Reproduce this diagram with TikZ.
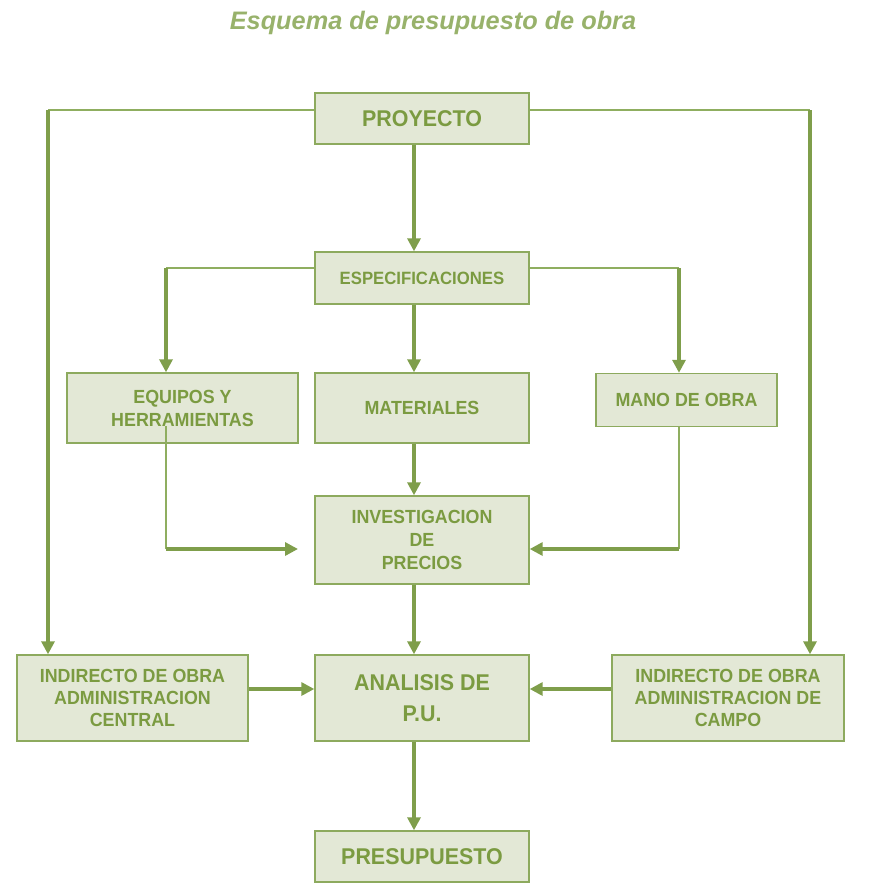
\documentclass[tikz,border=0pt]{standalone}
\usepackage{fontspec}
\setmainfont{Liberation Sans}
\newfontfamily\boxfont[FakeStretch=0.94]{Liberation Sans}
\usetikzlibrary{arrows.meta}
\definecolor{boxfill}{HTML}{E3E8D6}
\definecolor{boxline}{HTML}{8DAA5E}
\definecolor{txt}{HTML}{7B9B41}
\definecolor{arrowc}{HTML}{7F9E4B}
\definecolor{thinc}{HTML}{8FAE60}
\definecolor{titlec}{HTML}{98B26B}
\tikzset{
  stepbox/.style={draw=boxline, fill=boxfill, line width=1.4pt, inner sep=0pt,
    align=center, text=txt, font=\boxfont\bfseries\fontsize{19}{23}\selectfont},
  bigtxt/.style={font=\boxfont\bfseries\fontsize{22.8}{31}\selectfont},
  thinline/.style={draw=thinc, line width=1.5pt},
  thickarrow/.style={draw=arrowc, line width=3.2pt, -{Triangle[length=13pt,width=13pt]}},
}
\begin{document}
\begin{tikzpicture}[x=1pt,y=-1pt]
\useasboundingbox (0,0) rectangle (868,892);
\node[text=titlec, font=\bfseries\itshape\fontsize{25.3}{28}\selectfont] (title) at (433,23) {Esquema de presupuesto de obra};

\node[stepbox, bigtxt, minimum width=214pt, minimum height=51pt] (proy) at (422,118.5) {PROYECTO};
\node[stepbox, font=\boxfont\bfseries\fontsize{17.8}{23}\selectfont, minimum width=214pt, minimum height=52pt] (espec) at (422,278) {ESPECIFICACIONES};
\node[stepbox, minimum width=231pt, minimum height=70pt] (equip) at (182.5,408) {EQUIPOS Y\\HERRAMIENTAS};
\node[stepbox, minimum width=214pt, minimum height=70pt] (mat) at (422,408) {MATERIALES};
\node[stepbox, minimum width=181pt, minimum height=53pt] (mano) at (686.5,400) {MANO DE OBRA};
\node[stepbox, minimum width=214pt, minimum height=88pt] (inv) at (422,540) {INVESTIGACION\\DE\\PRECIOS};
\node[stepbox, bigtxt, minimum width=214pt, minimum height=86pt] (anal) at (422,698) {ANALISIS DE\\P.U.};
\node[stepbox, font=\boxfont\bfseries\fontsize{19}{22}\selectfont, minimum width=231pt, minimum height=86pt] (cent) at (132.5,698) {INDIRECTO DE OBRA\\ADMINISTRACION\\CENTRAL};
\node[stepbox, font=\boxfont\bfseries\fontsize{19}{22}\selectfont, minimum width=232pt, minimum height=86pt] (campo) at (728,698) {INDIRECTO DE OBRA\\ADMINISTRACION DE\\CAMPO};
\node[stepbox, bigtxt, minimum width=214pt, minimum height=51pt] (pres) at (422,856.5) {PRESUPUESTO};

% helper coordinates
\coordinate (col) at (414,0);
\coordinate (pl) at (48,110);
\coordinate (pr) at (810,110);
\coordinate (el) at (166,268);
\coordinate (er) at (679,268);
\coordinate (eqs) at (166,426);
\coordinate (eqc) at (166,549);
\coordinate (eqe) at (298,549);
\coordinate (mnc) at (679,549);

% main column
\draw[thickarrow] (proy.south -| col) -- (espec.north -| col);
\draw[thickarrow] (espec.south -| col) -- (mat.north -| col);
\draw[thickarrow] (mat.south -| col) -- (inv.north -| col);
\draw[thickarrow] (inv.south -| col) -- (anal.north -| col);
\draw[thickarrow] (anal.south -| col) -- (pres.north -| col);

% from PROYECTO to sides
\draw[thinline] (proy.west |- pl) -- (pl);
\draw[thickarrow] (pl) -- (cent.north -| pl);
\draw[thinline] (proy.east |- pr) -- (pr);
\draw[thickarrow] (pr) -- (campo.north -| pr);

% from ESPECIFICACIONES to sides
\draw[thinline] (espec.west |- el) -- (el);
\draw[thickarrow] (el) -- (equip.north -| el);
\draw[thinline] (espec.east |- er) -- (er);
\draw[thickarrow] (er) -- (mano.north -| er);

% to INVESTIGACION
\draw[thinline] (eqs) -- (eqc);
\draw[thickarrow] (eqc) -- (eqe);
\draw[thinline] (mano.south -| mnc) -- (mnc);
\draw[thickarrow] (mnc) -- (inv.east |- mnc);

% to ANALISIS
\draw[thickarrow] (cent.east |- 0,689) -- (anal.west |- 0,689);
\draw[thickarrow] (campo.west |- 0,689) -- (anal.east |- 0,689);
\end{tikzpicture}
\end{document}
